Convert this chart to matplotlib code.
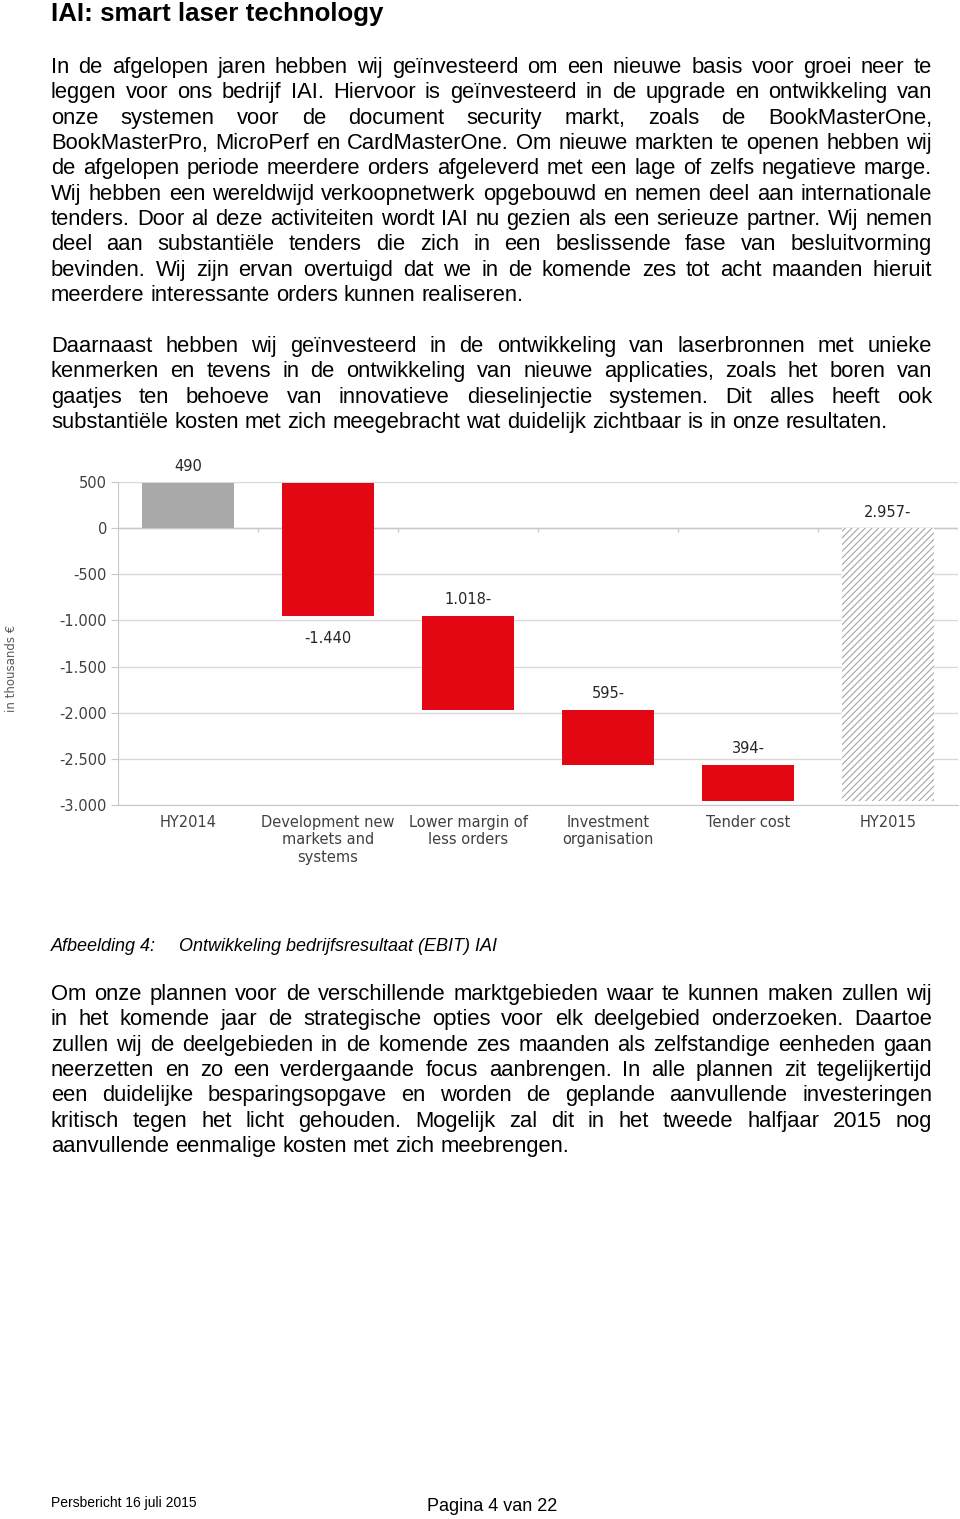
import numpy as np
import matplotlib
matplotlib.use("Agg")
import matplotlib.pyplot as plt
from matplotlib.ticker import FuncFormatter

# page text
title = "IAI: smart laser technology"
para1 = [
    "In de afgelopen jaren hebben wij geïnvesteerd om een nieuwe basis voor groei neer te",
    "leggen voor ons bedrijf IAI. Hiervoor is geïnvesteerd in de upgrade en ontwikkeling van",
    "onze systemen voor de document security markt, zoals de BookMasterOne,",
    "BookMasterPro, MicroPerf en CardMasterOne. Om nieuwe markten te openen hebben wij",
    "de afgelopen periode meerdere orders afgeleverd met een lage of zelfs negatieve marge.",
    "Wij hebben een wereldwijd verkoopnetwerk opgebouwd en nemen deel aan internationale",
    "tenders. Door al deze activiteiten wordt IAI nu gezien als een serieuze partner. Wij nemen",
    "deel aan substantiële tenders die zich in een beslissende fase van besluitvorming",
    "bevinden. Wij zijn ervan overtuigd dat we in de komende zes tot acht maanden hieruit",
    "meerdere interessante orders kunnen realiseren.",
]
para2 = [
    "Daarnaast hebben wij geïnvesteerd in de ontwikkeling van laserbronnen met unieke",
    "kenmerken en tevens in de ontwikkeling van nieuwe applicaties, zoals het boren van",
    "gaatjes ten behoeve van innovatieve dieselinjectie systemen. Dit alles heeft ook",
    "substantiële kosten met zich meegebracht wat duidelijk zichtbaar is in onze resultaten.",
]
para3 = [
    "Om onze plannen voor de verschillende marktgebieden waar te kunnen maken zullen wij",
    "in het komende jaar de strategische opties voor elk deelgebied onderzoeken. Daartoe",
    "zullen wij de deelgebieden in de komende zes maanden als zelfstandige eenheden gaan",
    "neerzetten en zo een verdergaande focus aanbrengen. In alle plannen zit tegelijkertijd",
    "een duidelijke besparingsopgave en worden de geplande aanvullende investeringen",
    "kritisch tegen het licht gehouden. Mogelijk zal dit in het tweede halfjaar 2015 nog",
    "aanvullende eenmalige kosten met zich meebrengen.",
]
caption_num = "Afbeelding 4:"
caption_text = "Ontwikkeling bedrijfsresultaat (EBIT) IAI"
footer_left = "Persbericht 16 juli 2015"
footer_mid = "Pagina 4 van 22"

# chart data (in thousands EUR)
categories = ["HY2014", "Development new\nmarkets and\nsystems", "Lower margin of\nless orders",
              "Investment\norganisation", "Tender cost", "HY2015"]
start_value = 490
changes = [-1440, -1018, -595, -394]
value_labels = ["490", "-1.440", "1.018-", "595-", "394-", "2.957-"]
label_below = [False, True, False, False, False, False]

W, H = 960, 1519
BODY = "Liberation Sans"
CHART = "DejaVu Sans"


def fx(px):
    return px / W


def fy(py):
    return 1 - py / H


def justified(fig, lines, first_baseline, spacing, size, left=51, right=932):
    r = fig.canvas.get_renderer()
    space = size * 100 / 72 * 0.278
    for i, line in enumerate(lines):
        y = fy(first_baseline + i * spacing)
        words = line.split()
        arts = [fig.text(0, y, w, fontsize=size, family=BODY, va="baseline", color="black")
                for w in words]
        widths = [a.get_window_extent(r).width for a in arts]
        if i == len(lines) - 1 or len(words) < 2:
            gap = space
        else:
            gap = (right - left - sum(widths)) / (len(words) - 1)
        x = left
        for a, w in zip(arts, widths):
            a.set_x(fx(x))
            x += w + gap


fig = plt.figure(figsize=(9.6, 15.19), dpi=100)

fig.text(fx(51), fy(21), title, fontsize=18.6, weight="bold", family=BODY, va="baseline")

LS = 25.35
justified(fig, para1, 73, LS, 15.8)
justified(fig, para2, 352, LS, 15.8)
justified(fig, para3, 1000, LS, 15.8)

fig.text(fx(51), fy(951), caption_num, fontsize=13, style="italic", family=BODY, va="baseline")
fig.text(fx(179), fy(951), caption_text, fontsize=13, style="italic", family=BODY, va="baseline")
fig.text(fx(51), fy(1507), footer_left, fontsize=10, family=BODY, va="baseline")
fig.text(fx(427), fy(1511), footer_mid, fontsize=13, family=BODY, va="baseline")

# waterfall chart
ax = fig.add_axes([fx(118), fy(805), 840 / W, 323 / H])
x = np.arange(len(categories))
bw = 0.66
red = "#e30613"
grey = "#a9a9a9"

tops = []
ax.bar(x[0], start_value, width=bw, color=grey, zorder=2)
tops.append((start_value, 0))
running = start_value
for i, v in enumerate(changes, start=1):
    ax.bar(x[i], v, bottom=running, width=bw, color=red, zorder=2)
    tops.append((running, running + v))
    running += v
total = start_value + sum(changes)
plt.rcParams["hatch.linewidth"] = 0.8
ax.bar(x[-1], total, width=bw, color="white", hatch="/////", edgecolor="#a6a6a6",
       linewidth=0, zorder=2)
tops.append((0, total))

for i, (lbl, below) in enumerate(zip(value_labels, label_below)):
    hi, lo = max(tops[i]), min(tops[i])
    if below:
        ax.annotate(lbl, (x[i], lo), xytext=(0, -16), textcoords="offset points",
                    ha="center", va="center", fontsize=10.5, color="#262626", family=CHART)
    else:
        ax.annotate(lbl, (x[i], hi), xytext=(0, 11.5), textcoords="offset points",
                    ha="center", va="center", fontsize=10.5, color="#262626", family=CHART,
                    annotation_clip=False)

ax.set_xlim(-0.5, len(categories) - 0.5)
ax.set_ylim(-3000, 500)
ax.set_yticks(np.arange(-3000, 501, 500))
ax.yaxis.set_major_formatter(FuncFormatter(lambda v, _: f"{int(v):,}".replace(",", ".")))
ax.grid(axis="y", color="#d9d9d9", linewidth=1, zorder=0)
ax.set_axisbelow(True)
ax.axhline(0, color="#c8c8c8", linewidth=1, zorder=1)
ax.vlines(x + 0.5, -45, 0, color="#c8c8c8", linewidth=1, zorder=1)

for s in ["top", "right"]:
    ax.spines[s].set_visible(False)
for s in ["left", "bottom"]:
    ax.spines[s].set_color("#c8c8c8")

ax.set_xticks(x, categories)
ax.tick_params(axis="x", length=0, pad=7, labelsize=10.5, labelcolor="#404040")
ax.tick_params(axis="y", length=5, color="#c8c8c8", pad=3, labelsize=10.5, labelcolor="#404040")
for t in ax.get_xticklabels() + ax.get_yticklabels():
    t.set_family(CHART)

fig.text(fx(12), fy(668), "in thousands €", rotation=90, fontsize=8.5, color="#595959",
         ha="center", va="center", family=CHART)

fig.savefig("out.png", dpi=100)
